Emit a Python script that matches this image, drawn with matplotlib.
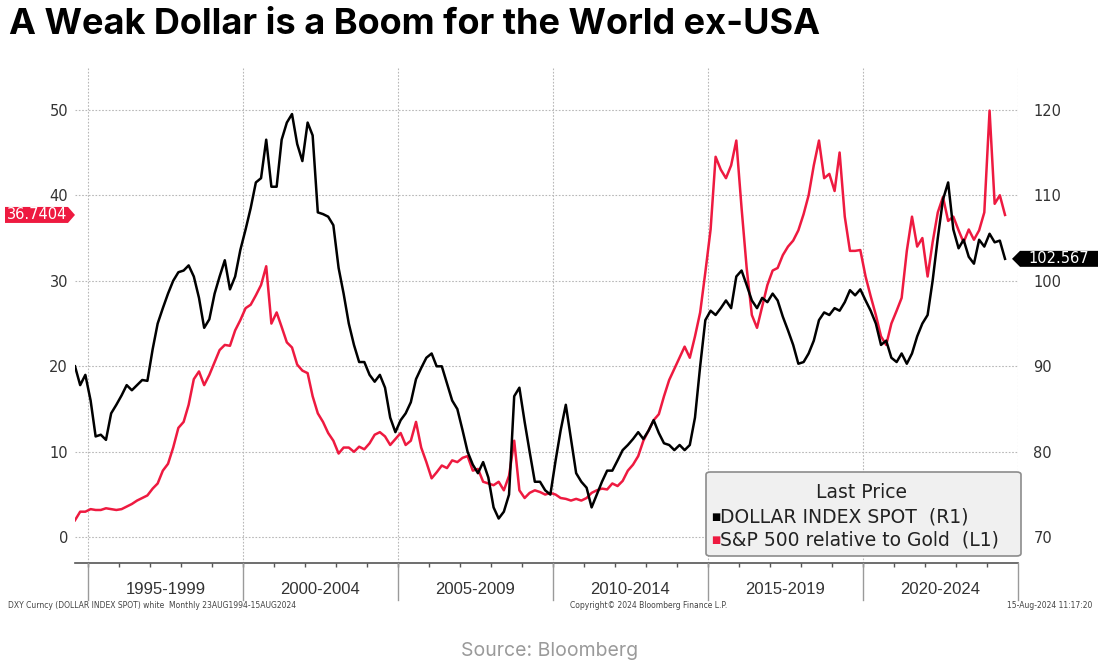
import numpy as np
import pandas as pd
import matplotlib
matplotlib.use('Agg')
import matplotlib.pyplot as plt
from matplotlib.patches import FancyBboxPatch, Polygon

W, H = 1100, 666

# bi-monthly readings, Aug 1994 .. Aug 2024
dates = pd.date_range('1994-08-01', periods=181, freq='2MS')

dxy = [90, 87.8, 89, 86, 81.8, 82, 81.4, 84.5, 85.5, 86.6,
       87.8, 87.2, 87.8, 88.4, 88.3, 92, 95, 96.8, 98.5, 100,
       101, 101.2, 101.8, 100.5, 98, 94.5, 95.5, 98.5, 100.5, 102.4,
       99, 100.5, 103.6, 106, 108.5, 111.5, 112, 116.5, 111, 111,
       116.5, 118.5, 119.5, 116, 114, 118.5, 117, 108, 107.8, 107.5,
       106.5, 101.5, 98.5, 95, 92.5, 90.5, 90.5, 89, 88.2, 89,
       87.5, 84, 82.3, 83.7, 84.5, 85.8, 88.5, 89.8, 91, 91.5,
       90, 90, 88, 86, 85, 82.5, 80, 78.5, 77.5, 78.8,
       77, 73.5, 72.2, 73, 75, 86.5, 87.5, 83.5, 80, 76.5,
       76.5, 75.5, 75, 79, 82.5, 85.5, 81.5, 77.5, 76.5, 75.8,
       73.5, 75, 76.5, 77.8, 77.8, 79, 80.2, 80.8, 81.5, 82.3,
       81.5, 82.5, 83.7, 82.2, 81, 80.8, 80.2, 80.8, 80.2, 80.8,
       84, 90, 95.4, 96.5, 96, 96.8, 97.7, 96.8, 100.5, 101.2,
       99.5, 97.7, 96.8, 98, 97.5, 98.5, 97.7, 95.8, 94.2, 92.5,
       90.3, 90.5, 91.5, 93, 95.4, 96.3, 96, 96.8, 96.5, 97.5,
       98.9, 98.3, 99, 97.7, 96.5, 95, 92.5, 93, 91, 90.5,
       91.5, 90.3, 91.5, 93.5, 95, 96, 100, 105, 109.5, 111.5,
       106, 103.8, 104.8, 102.8, 102, 104.8, 104, 105.5, 104.5, 104.7,
       102.567]

spx_gold = [2.0, 3.0, 3.0, 3.3, 3.2, 3.2, 3.4, 3.3, 3.2, 3.3,
            3.6, 3.9, 4.3, 4.6, 4.9, 5.7, 6.3, 7.8, 8.6, 10.5,
            12.8, 13.5, 15.5, 18.5, 19.4, 17.8, 19, 20.5, 21.9, 22.5,
            22.4, 24.2, 25.4, 26.8, 27.2, 28.3, 29.5, 31.7, 25, 26.3,
            24.6, 22.8, 22.2, 20.2, 19.5, 19.2, 16.5, 14.5, 13.5, 12.2,
            11.3, 9.8, 10.5, 10.5, 10, 10.6, 10.3, 11, 12, 12.3,
            11.8, 10.8, 11.5, 12.2, 10.8, 11.3, 13.5, 10.5, 8.8, 6.9,
            7.6, 8.4, 8.1, 9, 8.8, 9.3, 9.5, 7.8, 8, 6.5,
            6.3, 6.1, 6.5, 5.5, 7.2, 11.3, 5.5, 4.6, 5.2, 5.5,
            5.3, 5, 5.2, 5.0, 4.6, 4.5, 4.3, 4.5, 4.3, 4.6,
            5.2, 5.5, 5.7, 5.6, 6.3, 6.0, 6.6, 7.8, 8.5, 9.5,
            11.3, 12.5, 13.7, 14.4, 16.5, 18.4, 19.7, 21, 22.3, 21,
            23.5, 26.3, 31, 36, 44.5, 43, 42, 43.5, 46.4, 38.5,
            31.5, 26, 24.5, 27, 29.5, 31.2, 31.5, 33, 34, 34.7,
            35.9, 37.8, 40, 43.5, 46.4, 42, 42.5, 40.5, 45, 37.5,
            33.5, 33.5, 33.6, 30.5, 28.2, 26, 23.5, 22.5, 25, 26.5,
            28, 33.5, 37.5, 34, 35, 30.5, 34.5, 38, 39.8, 37,
            37.5, 35.9, 34.5, 36, 34.8, 35.9, 38, 49.9, 39, 40,
            37.7]

left_ticks = [0, 10, 20, 30, 40, 50]
right_ticks = [70, 80, 90, 100, 110, 120]
period_edges = [1995, 2000, 2005, 2010, 2015, 2020, 2025]
period_labels = ['1995-1999', '2000-2004', '2005-2009', '2010-2014',
                 '2015-2019', '2020-2024']

RED = '#ee1a40'
GRID = '#b8b8b8'
TXT = '#333333'


def px(x, y):
    # pixel (from top-left) -> figure fraction
    return x / W, 1 - y / H


fig = plt.figure(figsize=(W / 100, H / 100), dpi=100)
ax = fig.add_axes([75 / W, 1 - 563 / H, (1018 - 75) / W, (563 - 67) / H])
ax2 = ax.twinx()

edge_dates = [pd.Timestamp(f'{y}-01-01') for y in period_edges]
ax.set_xlim(dates[0], edge_dates[-1])
ax.set_ylim(-3, 55)
ax2.set_ylim(67, 125)

ax.plot(dates, spx_gold, color=RED, lw=1.8, zorder=3)
ax2.plot(dates, dxy, color='black', lw=1.8, zorder=3)

for a in (ax, ax2):
    for s in ('top', 'left', 'right'):
        a.spines[s].set_visible(False)
ax2.spines['bottom'].set_visible(False)
ax.spines['bottom'].set_color('#555555')
ax.spines['bottom'].set_linewidth(1.2)

ax.set_yticks(left_ticks)
ax2.set_yticks(right_ticks)
ax.tick_params(axis='y', length=0, pad=5, labelsize=10.5, labelcolor=TXT)
ax2.tick_params(axis='y', length=0, pad=11, labelsize=10.5, labelcolor=TXT)
for v in left_ticks:
    ax.axhline(v, color=GRID, lw=0.8, ls=(0, (1.5, 1.5)), zorder=1)
for d in edge_dates:
    ax.axvline(d, color=GRID, lw=0.8, ls=(0, (1.5, 1.5)), zorder=1)

year_ticks = [pd.Timestamp(f'{y}-01-01') for y in range(1995, 2025)]
ax.set_xticks(year_ticks)
ax.set_xticklabels([])
ax.tick_params(axis='x', length=3, width=1, color='#555555', direction='out')

# period separators and labels under the axis
for d in edge_dates:
    xf = ax.transData.transform((matplotlib.dates.date2num(d), 0))[0] / W
    fig.add_artist(plt.Line2D([xf, xf], [1 - 563 / H, 1 - 600 / H],
                              transform=fig.transFigure, color='#9a9a9a', lw=1))
for i, lab in enumerate(period_labels):
    a = matplotlib.dates.date2num(edge_dates[i])
    b = matplotlib.dates.date2num(edge_dates[i + 1])
    ax.text((a + b) / 2, 1 - 589 / H, lab,
            transform=matplotlib.transforms.blended_transform_factory(ax.transData, fig.transFigure),
            ha='center', va='center', fontsize=12, color=TXT,
            family='Liberation Sans')

# last-value tags
fig.canvas.draw()
yr = ax.transData.transform((0, spx_gold[-1]))[1]
yb = ax2.transData.transform((0, dxy[-1]))[1]
h = 8
red_tag = Polygon([(5, yr - h), (68, yr - h), (75, yr), (68, yr + h), (5, yr + h)],
                  closed=True, transform=None, facecolor=RED, edgecolor='none')
fig.add_artist(red_tag)
fig.text(37 / W, yr / H, '36.7404', color='white', fontsize=10.5,
         ha='center', va='center')
blk_tag = Polygon([(1012, yb), (1020, yb - h), (1098, yb - h), (1098, yb + h), (1020, yb + h)],
                  closed=True, transform=None, facecolor='black', edgecolor='none')
fig.add_artist(blk_tag)
fig.text(1059 / W, yb / H, '102.567', color='white', fontsize=10.5,
         ha='center', va='center')

# legend box
x0, y0 = px(706, 556)
x1, y1 = px(1021, 472)
box = FancyBboxPatch((x0, y0), x1 - x0, y1 - y0, boxstyle='round,pad=0,rounding_size=0.004',
                     transform=fig.transFigure, facecolor='#f0f0f0', edgecolor='#8c8c8c',
                     lw=1.2, zorder=5)
fig.add_artist(box)
fig.text(*px(862, 493), 'Last Price', ha='center', va='center', fontsize=13.5,
         color='#222222', zorder=6)
fig.text(*px(711, 517), '■', ha='left', va='center', fontsize=7, color='black', zorder=6)
fig.text(*px(720, 517), 'DOLLAR INDEX SPOT  (R1)', ha='left', va='center',
         fontsize=13.5, color='#222222', zorder=6)
fig.text(*px(711, 540), '■', ha='left', va='center', fontsize=7, color=RED, zorder=6)
fig.text(*px(720, 540), 'S&P 500 relative to Gold  (L1)', ha='left', va='center',
         fontsize=13.5, color='#222222', zorder=6)

# title, footer, source
fig.text(*px(9, 25), 'A Weak Dollar is a Boom for the World ex-USA', ha='left',
         va='center', fontsize=26, fontweight='bold', family='Inter', color='black')
fig.text(*px(8, 606), 'DXY Curncy (DOLLAR INDEX SPOT) white  Monthly 23AUG1994-15AUG2024',
         ha='left', va='center', fontsize=5.5, color='#444444')
fig.text(*px(570, 606), 'Copyright© 2024 Bloomberg Finance L.P.', ha='left',
         va='center', fontsize=5.5, color='#444444')
fig.text(*px(1092, 606), '15-Aug-2024 11:17:20', ha='right', va='center',
         fontsize=5.5, color='#444444')
fig.text(*px(550, 651), 'Source: Bloomberg', ha='center', va='center',
         fontsize=14, family='Inter', color='#9a9a9a')

fig.savefig('out.png', dpi=100)
